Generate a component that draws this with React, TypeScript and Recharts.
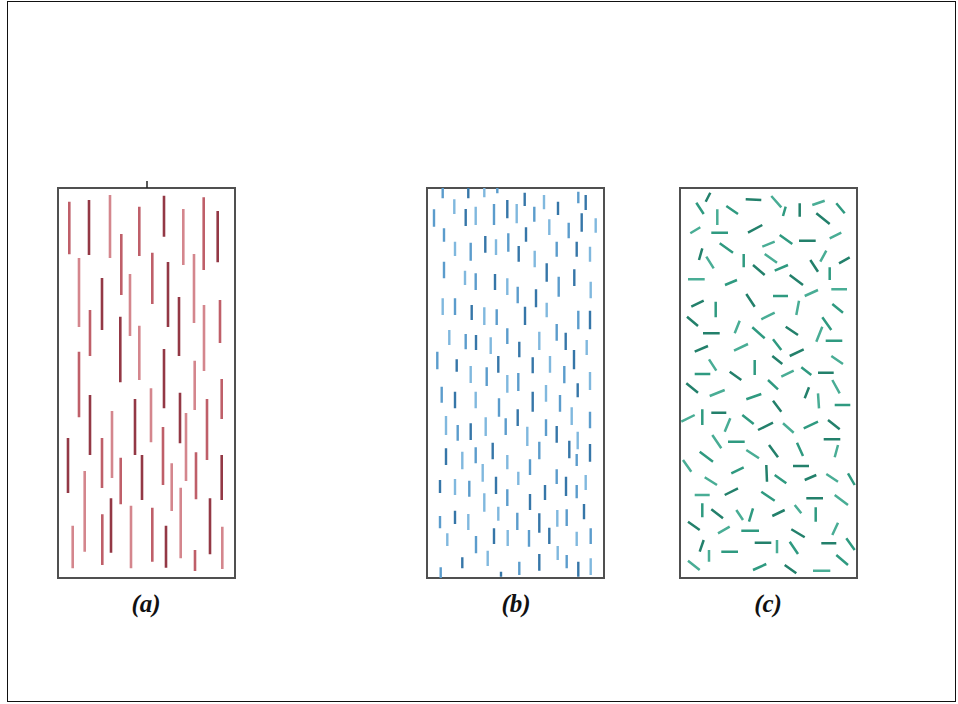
import React from 'react';
import { ComposedChart, XAxis, YAxis, Line, ReferenceArea, ReferenceLine } from 'recharts';

// Panel coordinates: x = distance from the panel's left edge, y = depth from the panel's top edge.
// Panel (a): long vertical rods [x, yTop, yBottom]
const panelARods: number[][] = [
  [11.3, 13.7, 66.3], [31, 12, 67], [52, 7, 70], [81.3, 18.7, 68], [106, 7.7, 48.7], [125.3, 21, 77],
  [145.7, 9.3, 82], [159.7, 23, 74.3], [21, 70, 139], [63.3, 46, 107], [44, 90, 142], [72, 86, 148],
  [94.3, 64.7, 116], [110, 74, 139], [136, 66, 135], [32, 122, 168], [121, 109, 168], [146, 117, 183],
  [162, 112, 155], [62.3, 128.7, 194.3], [81.3, 137.7, 192], [21, 163.7, 229.3], [106, 161, 220.3],
  [136.7, 172.7, 222], [163.7, 191, 231], [32, 207, 267], [54, 223, 290], [44, 250, 300], [77, 211, 267],
  [93, 200.3, 254.3], [105, 239, 297], [122, 204.7, 255.3], [128, 225, 293], [149, 211, 272], [10, 250, 305],
  [26.7, 283, 363.7], [62.7, 269.7, 316.3], [84, 267, 312], [113.7, 275.3, 323], [138, 264.3, 311.3],
  [163.7, 267, 312], [14.7, 337.7, 380.3], [44.3, 326.3, 377], [53, 310.3, 364.7], [73, 317.7, 380.3],
  [94.3, 319.7, 373.7], [108, 337.7, 379.7], [122.7, 299.7, 370.3], [137, 362, 383], [152, 310.3, 366.3],
  [164.3, 338.7, 381],
];

// Panel (b): short aligned dashes [x, yTop, yBottom]
const panelBDashes: number[][] = [
  [15.7, 0, 10.3], [41.3, 0, 10.3], [57.3, 0, 9.3], [70.3, 0, 5.3], [97.7, 4.7, 18], [117, 7, 21.3],
  [151.3, 3.7, 15.3], [158.7, 7, 22], [27.3, 11.3, 26], [7, 21.3, 38.7], [38.7, 21, 38], [48.7, 18.7, 37],
  [67, 16, 37], [80.3, 12, 30.3], [89.7, 16, 35.3], [107.3, 18.7, 33.7], [131, 13.7, 27], [122.3, 31.3, 47],
  [141.7, 34.7, 50.3], [154.7, 25.3, 43.7], [168.7, 30.3, 44.7], [17, 40.3, 53.7], [99, 39.3, 53.7],
  [28, 53.7, 68], [43.7, 54.7, 72.7], [58.3, 48, 64.7], [69, 51.3, 67], [81.3, 45.3, 63.7], [91.7, 58, 73.7],
  [107.7, 62.7, 79.3], [129.7, 53.7, 68.7], [149.7, 53.7, 68.7], [163, 58.7, 73.7], [17, 73.7, 90.3],
  [119.7, 75.3, 93.7], [38, 82.7, 97], [48.7, 85.3, 102], [68, 86, 102], [80.3, 90.3, 107], [131.7, 88.7, 108.7],
  [147.3, 81.3, 98], [163.7, 93.7, 110.3], [90.7, 98.7, 115.3], [109, 101.3, 119.3], [15.7, 110.3, 127],
  [28, 110.3, 127], [44.7, 117, 132], [57.3, 119.3, 137], [69.7, 121.3, 137], [98, 118.7, 137],
  [119.7, 114.7, 129.3], [151.3, 122.7, 141.3], [163, 122.7, 141.3], [22.3, 142, 157], [38.7, 146, 161.3],
  [49, 147, 162], [63.7, 149.3, 166], [80.3, 140.3, 156], [92.3, 153.7, 169.3], [112.3, 143.7, 162],
  [129.7, 136, 152.7], [138.7, 144.7, 162], [159.7, 152, 167], [10.3, 163.7, 181.3], [29.7, 171.3, 183.7],
  [43.7, 178, 195], [59.7, 179.3, 198], [71.3, 168, 184.7], [80.3, 187, 204.7], [91.3, 185, 203],
  [105.7, 169.3, 185.3], [123, 168, 184.7], [137.3, 178, 195.3], [147, 162, 181.3], [163, 184, 202],
  [14.7, 198.7, 214.7], [28, 203.7, 220.3], [48.7, 203.7, 220.3], [72, 210.3, 228.7], [105.7, 203.7, 223.7],
  [119, 197, 213.7], [133, 207, 223.7], [150.7, 195.3, 209.3], [19, 228, 247], [30.7, 237, 252.7],
  [43.7, 235.3, 252], [58.7, 229.3, 248], [78.7, 230.3, 247], [90.7, 221.3, 238], [100.3, 238.7, 258],
  [119, 231.3, 248], [129.7, 238, 254.7], [144.7, 219.3, 237], [163, 223.7, 240.3], [19, 260.3, 277],
  [35.3, 263.7, 281.3], [48.7, 259.3, 275.3], [65.7, 254.7, 271.3], [80.3, 267, 281.3], [112.3, 253.7, 271.3],
  [142.3, 252.7, 270.3], [150.7, 243.7, 261.3], [149.7, 266, 278], [163, 256, 273.7], [55.7, 276, 293.7],
  [103, 271.3, 287], [13, 292, 305], [28, 291, 307], [42.3, 292.7, 308.7], [69, 288.7, 306], [91.3, 283.7, 297],
  [129.7, 281.3, 296], [139, 288.7, 308], [158.7, 287, 302], [149.7, 297, 310.3], [118, 297, 312],
  [57.3, 305.3, 323.7], [80.3, 301.3, 318], [103, 306, 322], [71.3, 318.7, 332.7], [13, 328, 340.3],
  [28, 322.7, 336], [41.3, 326, 342], [90.3, 324.7, 342], [112.3, 325.3, 344.7], [130.3, 322, 338.7],
  [139.7, 321.3, 338], [157, 316, 331.3], [20.3, 345.3, 358], [49, 348, 365.3], [67, 340.3, 356],
  [80.7, 342, 358], [102, 342, 358.7], [122.3, 339.7, 356], [149.7, 343.7, 358], [163.7, 340.3, 356],
  [35.3, 369.3, 380.3], [60.7, 362.7, 378], [92.3, 373.7, 387], [112.3, 366, 382.7], [130.7, 358, 372],
  [139.7, 367, 380.3], [151.3, 373.7, 388.7], [163.7, 370.3, 387], [13.7, 379.3, 390], [74, 383.7, 388.7],
];

// Panel (c): randomly oriented fibres [x1, y1, x2, y2]
const panelCFibres: number[][] = [
  [16.3, 14.7, 23.7, 26], [25.7, 13.7, 30.3, 4.7], [37.3, 21.3, 37.3, 37], [46.3, 18, 58, 26],
  [65.7, 11.3, 81.3, 12], [91.3, 8, 101.3, 19.3], [105.7, 18.7, 103, 28], [119.7, 15.3, 119.7, 28.7],
  [132.3, 17, 144.7, 12.7], [156.3, 15.3, 164.7, 25.3], [136.3, 25.3, 149.7, 36], [10.3, 45.3, 20.3, 39.3],
  [31.3, 44.7, 48, 44.7], [68, 44.7, 82.3, 37], [82.3, 58.7, 94.7, 53.7], [99.7, 47, 112.3, 56],
  [119, 52.7, 135.7, 52.7], [149.7, 50.3, 161.3, 44.7], [39.7, 55.3, 53, 64.7], [19, 72, 22.3, 60.3],
  [26.3, 68.7, 33.7, 80.3], [63.7, 66, 63.7, 79.3], [73, 77, 84.7, 87], [84.7, 66, 97, 74.7],
  [94.7, 82.7, 108, 77], [130.3, 72, 138, 83.7], [140.3, 73.7, 146.3, 62.7], [149.7, 79.3, 149.7, 92],
  [159, 75.3, 169.7, 69.3], [8, 91.3, 24.7, 91.3], [45, 97, 57, 92], [109.7, 87, 123, 97],
  [151.3, 101.3, 167, 101.3], [93, 108, 108, 108], [66.3, 106, 74.7, 118.7], [124.7, 108, 138, 102],
  [35.7, 113.7, 35.7, 129.3], [11.3, 118.7, 23.7, 112.7], [119, 112.7, 116.3, 127], [152.3, 116, 163, 124.7],
  [7, 128.7, 18, 138], [81.3, 131.3, 94.7, 124.7], [142.3, 129.3, 151.3, 142], [23, 145.3, 39.7, 145.3],
  [54.7, 145.3, 59.7, 132.7], [72.3, 139.3, 84.7, 150.3], [105.7, 138.7, 118, 147], [136.3, 153.7, 142.3, 138.7],
  [145.7, 152.7, 162.3, 152.7], [14.7, 163.7, 28, 158], [54, 162.7, 68, 156], [93, 151.3, 101.3, 162],
  [109.7, 168, 123.7, 161.3], [29, 171.3, 36.3, 182.7], [74.7, 172, 74.7, 187], [92.3, 168, 102.3, 176],
  [151.3, 168, 163, 176], [14.7, 186, 30.3, 186], [49.7, 183.7, 61.3, 192], [101.3, 188.7, 113.7, 182.7],
  [121.3, 179.3, 131.3, 187], [138, 184.7, 153.7, 184.7], [152.3, 192, 159.7, 205.3], [88, 192, 98, 201.3],
  [6.3, 195.3, 18, 204.7], [29.7, 208, 44.7, 202], [66.3, 211.3, 81.3, 206], [124.7, 210.3, 129, 199.3],
  [138, 205.3, 139, 220.3], [154.7, 217, 170.3, 217], [93, 212.7, 101.3, 223.7], [1.3, 233.7, 14.7, 227],
  [22.3, 221.3, 22.3, 237], [31.3, 224.7, 46.3, 224.7], [44.7, 243.7, 50.3, 230.3], [62.3, 227, 73.7, 236],
  [78, 242, 93, 234.7], [103, 235.3, 113.7, 244.7], [123.7, 240.3, 138, 233.7], [148, 232, 159.7, 241.3],
  [32.3, 247, 41.3, 260.3], [48, 253.7, 64.7, 253.7], [143.7, 251.3, 160.3, 251.3], [154.7, 269.3, 158, 257],
  [117, 254.7, 123, 268], [89, 257, 98, 269.3], [66.3, 262, 79, 270.3], [19.7, 263.7, 33, 273.7],
  [113, 278, 129, 278], [3, 272, 11.3, 283.7], [51.3, 285.3, 63.7, 279.3], [86.3, 277, 87, 293.7],
  [24.7, 289.3, 37, 297], [94.7, 287, 106.3, 295.3], [124.7, 292, 136.3, 287], [146.3, 286, 158, 293.7],
  [168, 285.3, 174.7, 297], [44.7, 307, 58, 300.3], [14.7, 307, 29.7, 307], [81.3, 303.7, 94.7, 312.7],
  [126.3, 310.3, 143, 310.3], [154.7, 307, 168, 317], [22.3, 315.3, 22.3, 329.3], [31.3, 321.3, 43, 330.3],
  [56.3, 322, 63, 332], [69, 333.7, 73, 320.3], [92.3, 328, 104.7, 322], [114.7, 317, 121.3, 325.3],
  [135.7, 319.3, 135.7, 333.7], [8, 333.7, 19.7, 342], [38, 345.3, 49.7, 338.7], [61.3, 342.7, 79, 342.7],
  [111.3, 341.3, 124.7, 349.3], [152.3, 347, 158, 334.7], [166.3, 350.3, 174.7, 362], [19.7, 363.7, 23.7, 352],
  [29, 362, 29, 373.7], [41.3, 363.7, 58, 363.7], [74.7, 354.7, 91.3, 354.7], [97, 352, 97, 365.3],
  [109.7, 353.7, 118, 366], [141.3, 355.3, 156.3, 355.3], [8, 372.7, 19.7, 382], [73, 382, 86.3, 376],
  [104.7, 377, 116.3, 385.3], [133, 382.7, 150.3, 382.7], [156.3, 367, 168, 377],
];

const panelLabels = ['(a)', '(b)', '(c)'];

const PANEL_W = 177;
const PANEL_H = 390;
const MARGIN = { top: 10, right: 4, bottom: 4, left: 4 };

type Pt = { x: number; y: number | null };

function rodsToSegs(rods: number[][]): number[][] {
  return rods.map(([x, y1, y2]) => [x, y1, x, y2]);
}

function toPath(segs: number[][]): Pt[] {
  const out: Pt[] = [];
  segs.forEach(([x1, y1, x2, y2]) => {
    out.push({ x: x1, y: y1 }, { x: x2, y: y2 }, { x: x2, y: null });
  });
  return out;
}

function groupPaths(segs: number[][], n: number): Pt[][] {
  const groups: Pt[][] = [];
  for (let k = 0; k < n; k++) {
    groups.push(toPath(segs.filter((_, i) => i % n === k)));
  }
  return groups;
}

interface PanelProps {
  segs: number[][];
  colors: string[];
  width: number;
  left: number;
  top: number;
  label: string;
  labelCenter: number;
  extraTick?: number;
}

function Panel({ segs, colors, width, left, top, label, labelCenter, extraTick }: PanelProps) {
  const groups = groupPaths(segs, colors.length);
  return (
    <>
      <div style={{ position: 'absolute', left, top }}>
        <ComposedChart
          width={PANEL_W + MARGIN.left + MARGIN.right}
          height={PANEL_H + MARGIN.top + MARGIN.bottom}
          margin={MARGIN}
        >
          <XAxis dataKey="x" type="number" domain={[0, PANEL_W]} hide />
          <YAxis type="number" domain={[0, PANEL_H]} reversed hide />
          <ReferenceArea
            x1={0}
            x2={PANEL_W}
            y1={0}
            y2={PANEL_H}
            fill="#ffffff"
            fillOpacity={0}
            stroke="#505050"
            strokeWidth={2}
            ifOverflow="visible"
          />
          {extraTick !== undefined && (
            <ReferenceLine
              segment={[{ x: extraTick, y: -7 }, { x: extraTick, y: 0 }]}
              stroke="#222"
              strokeWidth={1.5}
              ifOverflow="visible"
            />
          )}
          {groups.map((data, k) => (
            <Line
              key={k}
              data={data}
              dataKey="y"
              type="linear"
              stroke={colors[k]}
              strokeWidth={width}
              dot={false}
              activeDot={false}
              connectNulls={false}
              isAnimationActive={false}
              legendType="none"
            />
          ))}
        </ComposedChart>
      </div>
      <div
        style={{
          position: 'absolute',
          left: labelCenter - 50,
          top: 591,
          width: 100,
          textAlign: 'center',
          fontFamily: '"Liberation Serif", "DejaVu Serif", serif',
          fontWeight: 'bold',
          fontStyle: 'italic',
          fontSize: 25,
          lineHeight: '25px',
          color: '#111',
        }}
      >
        {label}
      </div>
    </>
  );
}

export default function App() {
  return (
    <div style={{ position: 'absolute', left: 0, top: 0, width: 958, height: 704, background: '#fff', overflow: 'hidden' }}>
      <div
        style={{
          position: 'absolute',
          left: 7,
          top: 1,
          width: 947,
          height: 699,
          border: '1.5px solid #111',
        }}
      />
      <Panel
        segs={rodsToSegs(panelARods)}
        colors={['#bf5f69', '#933845', '#d4868d']}
        width={2.6}
        left={58 - MARGIN.left}
        top={188 - MARGIN.top}
        label={panelLabels[0]}
        labelCenter={146}
        extraTick={89}
      />
      <Panel
        segs={rodsToSegs(panelBDashes)}
        colors={['#5b9ccc', '#3676a8', '#80b8de']}
        width={2.4}
        left={427 - MARGIN.left}
        top={188 - MARGIN.top}
        label={panelLabels[1]}
        labelCenter={516}
      />
      <Panel
        segs={panelCFibres}
        colors={['#2f9a80', '#23806b', '#49ad95']}
        width={2.5}
        left={680 - MARGIN.left}
        top={188 - MARGIN.top}
        label={panelLabels[2]}
        labelCenter={768}
      />
    </div>
  );
}
